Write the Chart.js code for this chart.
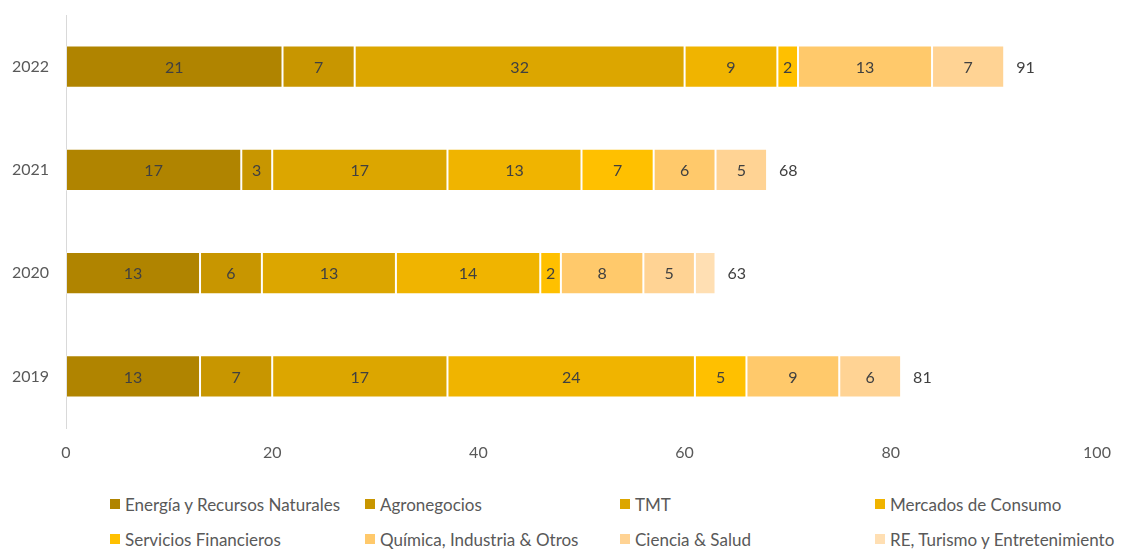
<!DOCTYPE html>
<html lang="es">
<head>
<meta charset="utf-8">
<title>Transacciones por sector</title>
<script src="https://cdn.jsdelivr.net/npm/chart.js@4.4.1/dist/chart.umd.min.js"></script>
<style>
  html, body { margin: 0; padding: 0; background: #fff; }
  .wrap { position: relative; width: 1126px; height: 549px; font-family: Lato, sans-serif; }
  .chart-box { position: absolute; left: 0; top: 0; width: 1126px; height: 472px; }
  .legend { position: absolute; left: 110px; top: 494px; display: grid;
            grid-template-columns: 255px 255px 255px 255px; row-gap: 15px; }
  .legend-item { display: flex; align-items: center; color: #595959; font-size: 17px; height: 20px; white-space: nowrap; }
  .legend-item span.box { width: 10px; height: 10px; margin-right: 5px; }
</style>
</head>
<body>
<div class="wrap">
  <div class="chart-box"><canvas id="sectorChart"></canvas></div>
  <div class="legend" id="legend"></div>
</div>
<script>
// years and sector counts, stacked left to right
const years = ['2022', '2021', '2020', '2019'];
const sectors = ['Energía y Recursos Naturales', 'Agronegocios', 'TMT', 'Mercados de Consumo',
  'Servicios Financieros', 'Química, Industria & Otros', 'Ciencia & Salud', 'RE, Turismo y Entretenimiento'];
const energia = [21, 17, 13, 13];
const agro = [7, 3, 6, 7];
const tmt = [32, 17, 13, 17];
const consumo = [9, 13, 14, 24];
const financieros = [2, 7, 2, 5];
const quimica = [13, 6, 8, 9];
const ciencia = [7, 5, 5, 6];
const turismo = [0, 0, 2, 0];
const xTicks = [0, 20, 40, 60, 80, 100];

const sectorColors = ['#B08400', '#C89600', '#DCA600', '#F0B400', '#FFC000', '#FFC96B', '#FFD394', '#FFDFB3'];
const seriesData = [energia, agro, tmt, consumo, financieros, quimica, ciencia, turismo];
// last series never gets value labels
const showValues = [true, true, true, true, true, true, true, false];

const totals = years.map((y, i) => seriesData.reduce((sum, s) => sum + s[i], 0));

const datasets = sectors.map((name, i) => ({
  label: name,
  data: seriesData[i],
  backgroundColor: sectorColors[i],
  borderColor: 'rgba(255,255,255,0.3)',
  borderWidth: 1,
  borderSkipped: false,
  showValues: showValues[i]
}));

// writes each segment's value in its middle and the bar total past its end
const barLabels = {
  id: 'barLabels',
  afterDatasetsDraw(chart) {
    const ctx = chart.ctx;
    ctx.save();
    ctx.font = '16px Lato';
    ctx.fillStyle = '#404040';
    ctx.textBaseline = 'middle';
    ctx.textAlign = 'center';
    chart.data.datasets.forEach((ds, di) => {
      if (!ds.showValues) return;
      chart.getDatasetMeta(di).data.forEach((bar, i) => {
        const v = ds.data[i];
        if (!v) return;
        ctx.fillText(v, (bar.x + bar.base) / 2, bar.y + 1);
      });
    });
    ctx.textAlign = 'left';
    const xScale = chart.scales.x;
    const yScale = chart.scales.y;
    totals.forEach((t, i) => {
      ctx.fillText(t, xScale.getPixelForValue(t) + 12, yScale.getPixelForValue(i) + 1);
    });
    ctx.restore();
  }
};

new Chart(document.getElementById('sectorChart'), {
  type: 'bar',
  data: { labels: years, datasets: datasets },
  plugins: [barLabels],
  options: {
    indexAxis: 'y',
    responsive: true,
    maintainAspectRatio: false,
    animation: false,
    layout: { padding: { top: 15, right: 29, left: 0, bottom: 0 } },
    datasets: { bar: { categoryPercentage: 0.8, barPercentage: 0.51 } },
    scales: {
      x: {
        stacked: true,
        min: 0,
        max: 100,
        afterBuildTicks(scale) { scale.ticks = xTicks.map(v => ({ value: v })); },
        grid: { display: false },
        border: { display: false },
        ticks: { color: '#595959', font: { family: 'Lato', size: 16 }, padding: 7 },
        afterFit(scale) { scale.height = 44; }
      },
      y: {
        stacked: true,
        grid: { display: false },
        border: { display: true, color: '#D9D9D9', width: 1 },
        ticks: { color: '#595959', font: { family: 'Lato', size: 16 }, padding: 9 },
        afterFit(scale) {
          scale.width = 66;
          // no extra room for the category labels above the plot
          scale.paddingTop = 0;
          scale.paddingBottom = 0;
        }
      }
    },
    plugins: {
      legend: { display: false },
      tooltip: { enabled: false }
    }
  }
});

// legend in four fixed columns
const legendEl = document.getElementById('legend');
sectors.forEach((name, i) => {
  const item = document.createElement('div');
  item.className = 'legend-item';
  item.innerHTML = `<span class="box" style="background:${sectorColors[i]}"></span>${name}`;
  legendEl.appendChild(item);
});
</script>
</body>
</html>
